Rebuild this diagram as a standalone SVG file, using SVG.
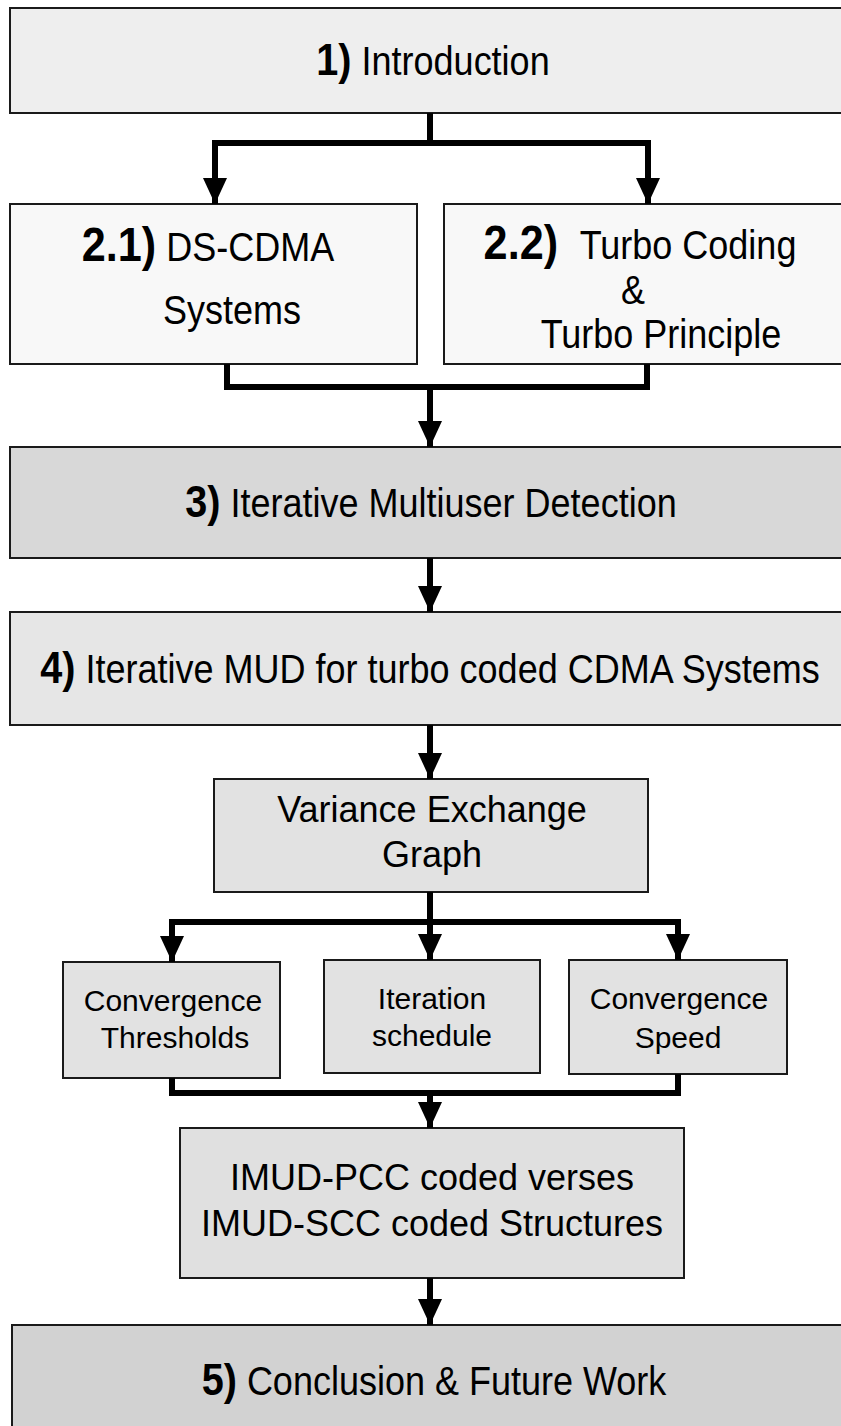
<svg xmlns="http://www.w3.org/2000/svg" width="841" height="1426" viewBox="0 0 841 1426">
  <style>
    .box { stroke: #1a1a1a; stroke-width: 2; }
    .t { font-family: "Liberation Sans", Arial, sans-serif; fill: #000; text-anchor: middle; }
    .main { font-size: 40px; }
    .sub { font-size: 36px; }
    .small { font-size: 30px; }
    .num { font-weight: bold; font-size: 44px; }
    .num2 { font-weight: bold; font-size: 48px; }
    .wire { fill: none; stroke: #000; stroke-width: 6; stroke-linejoin: miter; }
  </style>
  <defs>
    <!-- solid arrowhead drawn along +x, tip at the path end -->
    <marker id="head" markerUnits="userSpaceOnUse" markerWidth="26" markerHeight="26" viewBox="0 0 26 26" refX="26" refY="13" orient="auto">
      <path d="M0,1 L26,13 L0,25 Z" fill="#000"/>
    </marker>
  </defs>

  <rect width="841" height="1426" fill="#fff"/>

  <!-- 1) Introduction -->
  <g id="intro">
    <rect class="box" x="10" y="8" width="840" height="105" fill="#eeeeee"/>
    <text class="t main" transform="translate(433,75) scale(0.9,1)"><tspan class="num">1)</tspan> Introduction</text>
  </g>

  <!-- 2.1) DS-CDMA Systems -->
  <g id="ds-cdma">
    <rect class="box" x="10" y="204" width="407" height="160" fill="#f8f8f8"/>
    <text class="t main" transform="translate(208,261) scale(0.9,1)"><tspan class="num2">2.1)</tspan> DS-CDMA</text>
    <text class="t main" transform="translate(232,324) scale(0.9,1)">Systems</text>
  </g>

  <!-- 2.2) Turbo Coding & Turbo Principle -->
  <g id="turbo">
    <rect class="box" x="444" y="204" width="410" height="160" fill="#f8f8f8"/>
    <text class="t main" transform="translate(640,259) scale(0.9,1)"><tspan class="num2">2.2)</tspan><tspan dx="24">Turbo Coding</tspan></text>
    <text class="t main" transform="translate(633,304) scale(0.9,1)">&amp;</text>
    <text class="t main" transform="translate(661,348) scale(0.9,1)">Turbo Principle</text>
  </g>

  <!-- 3) Iterative Multiuser Detection -->
  <g id="imud">
    <rect class="box" x="10" y="447" width="840" height="111" fill="#d8d8d8"/>
    <text class="t main" transform="translate(431,517) scale(0.9,1)"><tspan class="num">3)</tspan> Iterative Multiuser Detection</text>
  </g>

  <!-- 4) Iterative MUD for turbo coded CDMA Systems -->
  <g id="imud-turbo">
    <rect class="box" x="10" y="612" width="840" height="113" fill="#e6e6e6"/>
    <text class="t main" transform="translate(430,683) scale(0.9,1)"><tspan class="num">4)</tspan> Iterative MUD for turbo coded CDMA Systems</text>
  </g>

  <!-- Variance Exchange Graph -->
  <g id="veg">
    <rect class="box" x="214" y="779" width="434" height="113" fill="#e2e2e2"/>
    <text class="t sub" x="432" y="822">Variance Exchange</text>
    <text class="t sub" x="432" y="867">Graph</text>
  </g>

  <!-- Convergence Thresholds -->
  <g id="thresholds">
    <rect class="box" x="63" y="962" width="217" height="116" fill="#e2e2e2"/>
    <text class="t small" x="173" y="1011">Convergence</text>
    <text class="t small" x="175" y="1048">Thresholds</text>
  </g>

  <!-- Iteration schedule -->
  <g id="schedule">
    <rect class="box" x="324" y="960" width="216" height="113" fill="#e2e2e2"/>
    <text class="t small" x="432" y="1009">Iteration</text>
    <text class="t small" x="432" y="1046">schedule</text>
  </g>

  <!-- Convergence Speed -->
  <g id="speed">
    <rect class="box" x="569" y="960" width="218" height="114" fill="#e2e2e2"/>
    <text class="t small" x="679" y="1009">Convergence</text>
    <text class="t small" x="678" y="1048">Speed</text>
  </g>

  <!-- IMUD-PCC versus IMUD-SCC -->
  <g id="pcc-scc">
    <rect class="box" x="180" y="1128" width="504" height="150" fill="#e0e0e0"/>
    <text class="t sub" x="432" y="1190">IMUD-PCC coded verses</text>
    <text class="t sub" x="432" y="1236">IMUD-SCC coded Structures</text>
  </g>

  <!-- 5) Conclusion & Future Work -->
  <g id="conclusion">
    <rect class="box" x="12" y="1325" width="840" height="110" fill="#d2d2d2"/>
    <text class="t main" transform="translate(434,1395) scale(0.9,1)"><tspan class="num">5)</tspan> Conclusion &amp; Future Work</text>
  </g>

  <!-- connectors -->
  <g id="connectors">
    <path class="wire" d="M430,113 V143"/>
    <path class="wire" d="M430,143 H215 V204" marker-end="url(#head)"/>
    <path class="wire" d="M430,143 H648 V204" marker-end="url(#head)"/>

    <path class="wire" d="M227,364 V387 H647 V364"/>
    <path class="wire" d="M430,387 V447" marker-end="url(#head)"/>

    <path class="wire" d="M430,558 V612" marker-end="url(#head)"/>
    <path class="wire" d="M430,725 V779" marker-end="url(#head)"/>

    <path class="wire" d="M430,892 V922"/>
    <path class="wire" d="M430,922 H172 V962" marker-end="url(#head)"/>
    <path class="wire" d="M430,922 H678 V960" marker-end="url(#head)"/>
    <path class="wire" d="M430,922 V960" marker-end="url(#head)"/>

    <path class="wire" d="M172,1078 V1093 H678 V1074"/>
    <path class="wire" d="M430,1093 V1128" marker-end="url(#head)"/>
    <path class="wire" d="M430,1278 V1325" marker-end="url(#head)"/>
  </g>
</svg>
